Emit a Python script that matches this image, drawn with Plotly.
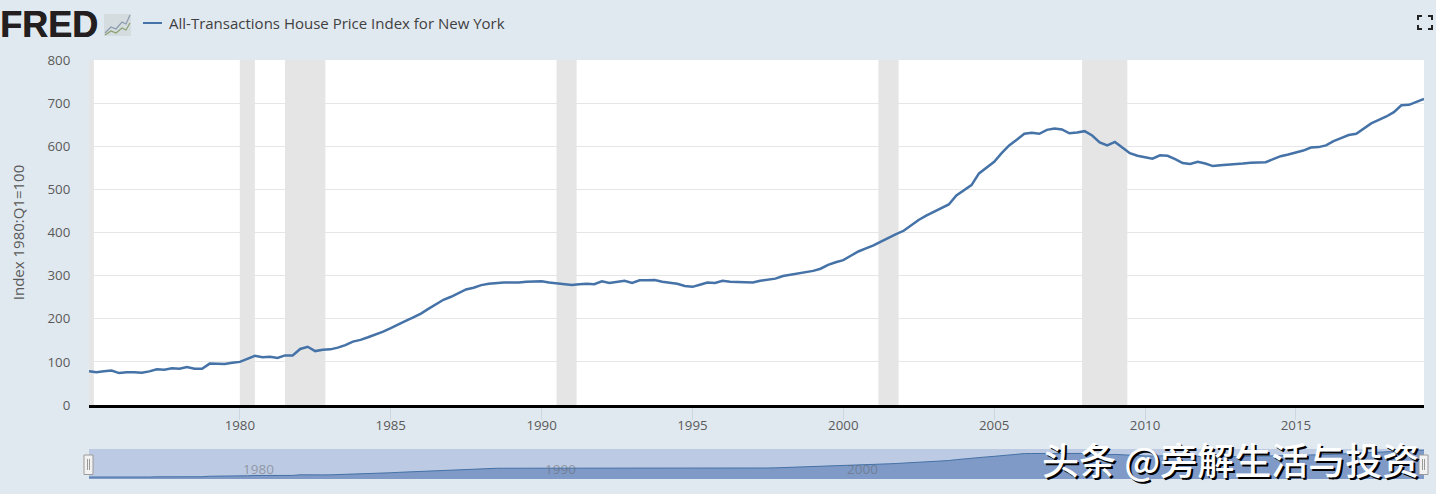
import plotly.graph_objects as go

W, H = 1436, 494

SERIES_NAME = "All-Transactions House Price Index for New York"
Y_TITLE = "Index 1980:Q1=100"
WATERMARK = "头条 @旁解生活与投资"

FIRST_YEAR = 1975
index_values = [
    78, 76, 78, 80,      # 1975
    74, 76, 76, 75,
    78, 83, 82, 85,
    84, 88, 84, 84,
    96, 95, 95, 98,      # 1979
    100, 107, 114, 111,
    112, 109, 115, 115,
    130, 135, 125, 128,
    129, 133, 139, 147,
    151, 157, 163, 170,  # 1984
    178, 187, 195, 203,
    212, 223, 234, 244,
    251, 259, 268, 272,
    278, 281, 283, 284,
    284, 284, 286, 287,  # 1989
    287, 284, 282, 279,
    278, 280, 281, 280,
    287, 283, 286, 288,
    283, 289, 289, 290,
    286, 283, 281, 276,  # 1994
    274, 279, 284, 283,
    288, 286, 285, 285,
    284, 288, 290, 293,
    299, 302, 305, 309,
    311, 316, 325, 331,  # 1999
    336, 346, 356, 363,
    370, 379, 388, 396,
    404, 417, 429, 439,
    448, 458, 465, 486,
    498, 510, 537, 551,  # 2004
    564, 584, 602, 615,
    629, 631, 629, 638,
    641, 639, 630, 632,
    635, 625, 609, 602,
    610, 597, 584, 578,  # 2009
    574, 571, 579, 578,
    570, 561, 559, 564,
    560, 554, 556, 557,
    558, 560, 562, 563,
    563, 570, 577, 581,  # 2014
    585, 590, 597, 598,
    602, 612, 619, 626,
    629, 640, 653, 661,
    669, 679, 695, 696,
    704, 710,            # 2019
]
quarter_dates = [
    f"{FIRST_YEAR + i // 4}-{(i % 4) * 3 + 1:02d}-01" for i in range(len(index_values))
]

recession_starts = ["1975-01-01", "1980-01-01", "1981-07-01", "1990-07-01", "2001-03-01", "2007-12-01"]
recession_ends = ["1975-03-01", "1980-07-01", "1982-11-01", "1991-03-01", "2001-11-01", "2009-06-01"]

y_ticks = [0, 100, 200, 300, 400, 500, 600, 700, 800]
x_tick_years = [1980, 1985, 1990, 1995, 2000, 2005, 2010, 2015]
nav_label_years = [1980, 1990, 2000]

X_RANGE = ["1975-01-01", "2019-04-01"]
LINE = "#4572a7"
BG = "#e1e9f0"
TXT = "#5a5a5a"
FONT = "Open Sans"


def px(x):
    return x / W


def py(y):
    return 1 - y / H


fig = go.Figure()
fig.add_trace(go.Scatter(
    x=quarter_dates, y=index_values, mode="lines", name=SERIES_NAME,
    line=dict(color=LINE, width=2.5), xaxis="x", yaxis="y", showlegend=False,
))
fig.add_trace(go.Scatter(
    x=quarter_dates, y=index_values, mode="lines", name="Navigator",
    line=dict(color=LINE, width=1), fill="tozeroy", fillcolor="#7f9ac6",
    xaxis="x2", yaxis="y2", showlegend=False, hoverinfo="skip",
))

shapes = []
for s, e in zip(recession_starts, recession_ends):
    shapes.append(dict(type="rect", xref="x", yref="y", x0=s, x1=e, y0=y_ticks[0], y1=y_ticks[-1],
                       fillcolor="#e5e5e5", line_width=0, layer="between"))
# navigator backdrop
shapes.append(dict(type="rect", xref="x2", yref="y2", x0=X_RANGE[0], x1=X_RANGE[1], y0=31, y1=737,
                   fillcolor="#bccae3", line_width=0, layer="between"))
# navigator handles
for hx0, hx1 in ((84, 93), (1419, 1428)):
    shapes.append(dict(type="rect", xref="paper", yref="paper", x0=px(hx0), x1=px(hx1), y0=py(474.5), y1=py(455),
                       fillcolor="#f2f2f2", line=dict(color="#9a9a9a", width=1), layer="above"))
    for gx in (hx0 + 3.5, hx0 + 5.5):
        shapes.append(dict(type="line", xref="paper", yref="paper", x0=px(gx), x1=px(gx), y0=py(470), y1=py(459),
                           line=dict(color="#9a9a9a", width=1), layer="above"))
# legend sample
shapes.append(dict(type="line", xref="paper", yref="paper", x0=px(143), x1=px(162), y0=py(23), y1=py(23),
                   line=dict(color=LINE, width=2)))


def path(points):
    return "M " + " L ".join(f"{px(a):.5f},{py(b):.5f}" for a, b in points)


# FRED logo graph icon
shapes.append(dict(type="rect", xref="paper", yref="paper", x0=px(104), x1=px(131), y0=py(36), y1=py(14),
                   fillcolor="#d5dce0", line_width=0))
shapes.append(dict(type="path", xref="paper", yref="paper",
                   path=path([(105, 33), (111, 27), (116, 29), (122, 22), (126, 24), (130, 15)]),
                   line=dict(color="#8a9bab", width=1.2)))
shapes.append(dict(type="path", xref="paper", yref="paper",
                   path=path([(105, 35), (111, 31), (116, 33), (122, 28), (126, 30), (130, 23)]),
                   line=dict(color="#8aa070", width=1.2)))
# full-screen icon
for pts in (
    [(1418, 20), (1418, 16), (1422, 16)],
    [(1428, 16), (1432, 16), (1432, 20)],
    [(1418, 25), (1418, 29), (1422, 29)],
    [(1428, 29), (1432, 29), (1432, 25)],
):
    shapes.append(dict(type="path", xref="paper", yref="paper", path=path(pts),
                       line=dict(color="#222222", width=2)))

annotations = [
    dict(text="FRED", xref="paper", yref="paper", x=px(-2), y=py(24.5), xanchor="left", yanchor="middle",
         showarrow=False, font=dict(family="Liberation Sans", size=36, color="#231f20", weight=700,
                                    shadow="0.6px 0 0 #231f20")),
    dict(text=SERIES_NAME, xref="paper", yref="paper", x=px(167), y=py(23.5), xanchor="left", yanchor="middle",
         showarrow=False, font=dict(family=FONT, size=15, color="#404040")),
    dict(text=WATERMARK, xref="paper", yref="paper", x=px(1421), y=py(459), xanchor="right", yanchor="middle",
         showarrow=False, font=dict(family="Noto Sans CJK SC", size=37, color="#ffffff", weight=500,
                                    shadow="2px 2px 0 #000000")),
]
for yr in nav_label_years:
    annotations.append(dict(text=str(yr), xref="x2", yref="paper", x=f"{yr}-01-01", y=py(469), xshift=19,
                            xanchor="center", yanchor="middle", showarrow=False,
                            font=dict(family=FONT, size=13.5, color="rgba(100,100,100,0.5)")))

fig.update_layout(
    width=W, height=H, margin=dict(l=0, r=0, t=0, b=0),
    paper_bgcolor=BG, plot_bgcolor="#ffffff", font=dict(family=FONT, color=TXT),
    shapes=shapes, annotations=annotations, hovermode="x",
    xaxis=dict(
        type="date", domain=[px(89), px(1424)], range=X_RANGE, anchor="y", automargin=False,
        tickmode="array", tickvals=[f"{y}-01-01" for y in x_tick_years], ticktext=[str(y) for y in x_tick_years],
        ticks="outside", ticklen=12, tickcolor="#ccd6e0", tickwidth=1, ticklabelstandoff=-6,
        showgrid=False, zeroline=False, showline=True, linecolor="#000000", linewidth=2.5,
        tickfont=dict(family=FONT, size=13.3, color=TXT),
    ),
    yaxis=dict(
        domain=[py(405), py(60)], range=[0, 800], anchor="x", automargin=False,
        tickmode="array", tickvals=y_ticks,
        ticks="outside", ticklen=15, tickcolor="rgba(0,0,0,0)",
        showgrid=True, gridcolor="#e6e6e6", gridwidth=1, zeroline=False, showline=False,
        tickfont=dict(family=FONT, size=13.3, color=TXT),
        title=dict(text=Y_TITLE, standoff=19, font=dict(family=FONT, size=15, color=TXT)),
    ),
    xaxis2=dict(type="date", domain=[px(89), px(1424)], range=X_RANGE, anchor="y2", visible=False, automargin=False),
    yaxis2=dict(domain=[py(479), py(449)], range=[31, 737], anchor="x2", visible=False, automargin=False),
)

fig.write_html("out.html", config={"displayModeBar": False},
               post_script="document.body.style.margin='0';document.body.style.overflow='hidden';")
